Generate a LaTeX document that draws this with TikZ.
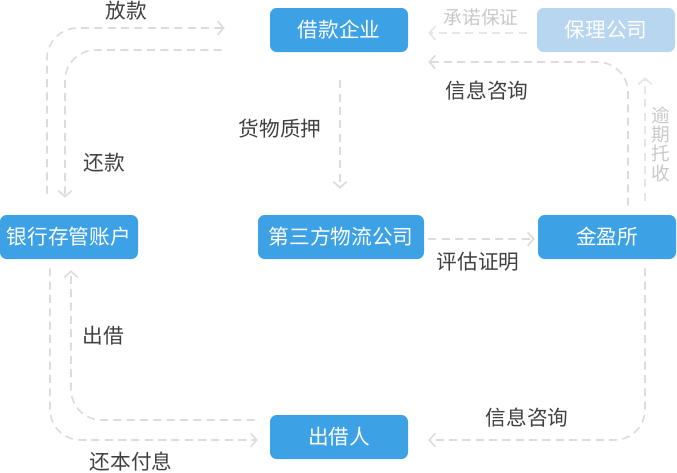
\documentclass[tikz,border=0pt]{standalone}
\usepackage{fontspec}
\setmainfont{Noto Sans CJK SC}
\usetikzlibrary{arrows.meta,calc}
\definecolor{boxblue}{RGB}{61,161,230}
\definecolor{paleblue}{RGB}{185,214,241}
\definecolor{flowgray}{RGB}{220,220,220}
\definecolor{textgray}{RGB}{64,64,64}
\definecolor{lightgray}{RGB}{200,200,200}
\begin{document}
\begin{tikzpicture}[
		x=0.75pt, y=-0.75pt,
		box/.style={rectangle, rounded corners=5pt, fill=boxblue, text=white,
				minimum width=103.5pt, minimum height=33pt, inner sep=0pt,
				font=\fontsize{15.5pt}{18pt}\selectfont},
		flow/.style={draw=flowgray, line width=1.2pt, dash pattern=on 6pt off 4pt,
				rounded corners=23pt, -{Straight Barb[length=4.5pt,width=10pt]}},
		lbl/.style={text=textgray, font=\fontsize{15.5pt}{18pt}\selectfont},
		faint/.style={text=lightgray, font=\fontsize{14pt}{14.5pt}\selectfont}
	]
	\useasboundingbox (0,0) rectangle (677,472);

	% parties
	\node[box] (loan) at (339,30) {借款企业};
	\node[box, fill=paleblue] (factor) at (606,30) {保理公司};
	\node[box] (bank) at (69,237) {银行存管账户};
	\node[box, minimum width=124.5pt] (logistics) at (341,237) {第三方物流公司};
	\node[box] (exchange) at (607,237) {金盈所};
	\node[box] (lender) at (339,437) {出借人};

	% bank <-> borrower
	\draw[flow] ($(bank.north)+(-22,-21)$) |- ($(loan.west)+(-45,-2)$);
	\draw[flow] ($(loan.west)+(-48,20)$) -| ($(bank.north)+(-4,-17)$);
	\node[lbl] (lend) at (126,11) {放款};
	\node[lbl] (repay) at (104,163) {还款};

	% pledge of goods
	\draw[flow] ($(loan.south)+(1,28)$) -- ($(logistics.north)+(-1,-26)$);
	\node[lbl] (pledge) at (280,129) {货物质押};

	% factoring company
	\draw[flow, draw=flowgray!70] ($(factor.west)+(-10,3)$) -- ($(loan.east)+(20,3)$);
	\node[faint] (guarantee) at (481,17) {承诺保证};
	\draw[flow, draw=flowgray!70] ($(exchange.north)+(38,-14)$) -- ($(factor.south)+(39,25)$);
	\node[faint, align=center] (collect) at (661,144) {逾\\期\\托\\收};

	% platform
	\draw[flow] ($(exchange.north)+(21,-9)$) |- ($(loan.east)+(20,32)$);
	\node[lbl] (infotop) at (487,91) {信息咨询};
	\draw[flow] ($(logistics.east)+(4,2)$) -- ($(exchange.west)+(-3,2)$);
	\node[lbl] (assess) at (478,262) {评估证明};
	\draw[flow] ($(exchange.south)+(38,9)$) |- ($(lender.east)+(20,3)$);
	\node[lbl] (infobot) at (527,418) {信息咨询};

	% lender <-> bank
	\draw[flow] ($(lender.west)+(-15,-17)$) -| ($(bank.south)+(2,11)$);
	\node[lbl] (invest) at (103,336) {出借};
	\draw[flow] ($(bank.south)+(-19,9)$) |- ($(lender.west)+(-12,3)$);
	\node[lbl] (payback) at (131,462) {还本付息};
\end{tikzpicture}
\end{document}
